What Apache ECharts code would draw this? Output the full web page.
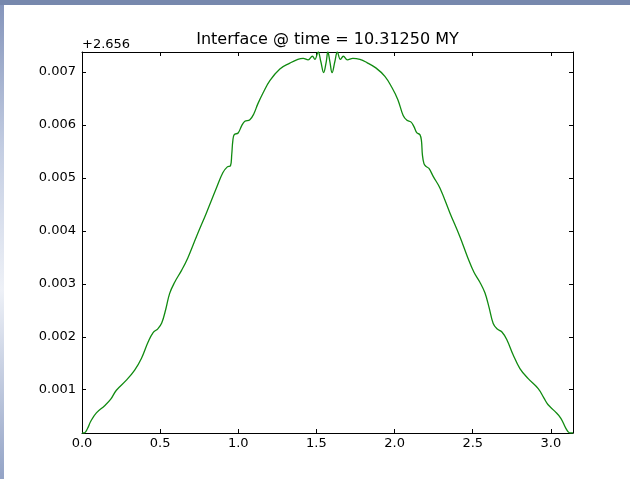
<!DOCTYPE html>
<html>
<head>
<meta charset="utf-8">
<style>
  html, body { margin: 0; padding: 0; background: #ffffff; }
  #chart { width: 630px; height: 479px; }
</style>
<script src="https://cdn.jsdelivr.net/npm/echarts@6/dist/echarts.min.js"></script>
</head>
<body>
<div id="chart"></div>
<script>
// Interface position along the profile (x in radians, height relative to offset)
const titleText = 'Interface @ time = 10.31250 MY';
const offsetText = '+2.656';

const xs = [
  0.000, 0.017, 0.036, 0.056, 0.092, 0.145, 0.184, 0.220, 0.284, 0.337,
  0.380, 0.423, 0.455, 0.485, 0.510, 0.536, 0.561, 0.593, 0.638, 0.677,
  0.732, 0.796, 0.860, 0.901, 0.930, 0.950, 0.958, 0.965, 0.974, 0.999,
  1.022, 1.042, 1.074, 1.099, 1.125, 1.159, 1.202, 1.266, 1.330, 1.381,
  1.415, 1.447, 1.474, 1.490, 1.511, 1.528, 1.546, 1.563, 1.573,
  1.586, 1.600, 1.618, 1.634, 1.653, 1.672, 1.698, 1.733, 1.778, 1.823,
  1.880, 1.938, 1.983, 2.021, 2.055, 2.079, 2.104, 2.124, 2.143, 2.162,
  2.172, 2.178, 2.188, 2.200, 2.220, 2.247, 2.290, 2.354, 2.418, 2.469,
  2.508, 2.546, 2.578, 2.604, 2.631, 2.655, 2.687, 2.719, 2.757, 2.802,
  2.855, 2.919, 2.956, 2.981, 3.026, 3.064, 3.096, 3.119, 3.1416
];

const heights = [
  0.000182, 0.000186, 0.000271, 0.000404, 0.000561, 0.000697, 0.000820, 0.000990, 0.001180, 0.001370,
  0.001590, 0.001900, 0.002080, 0.002150, 0.002260, 0.002520, 0.002820, 0.003030, 0.003260, 0.003490,
  0.003890, 0.004340, 0.004810, 0.005100, 0.005210, 0.005230, 0.005440, 0.005700, 0.005820, 0.005850,
  0.005990, 0.006070, 0.006100, 0.006210, 0.006400, 0.006610, 0.006840, 0.007060, 0.007170, 0.007240,
  0.007260, 0.007230, 0.007300, 0.007240, 0.007380, 0.007200, 0.006990, 0.007200, 0.007380,
  0.007200, 0.006990, 0.007200, 0.007380, 0.007240, 0.007300, 0.007230, 0.007260, 0.007240, 0.007180,
  0.007080, 0.006920, 0.006710, 0.006480, 0.006180, 0.006090, 0.006060, 0.005970, 0.005850, 0.005820,
  0.005700, 0.005440, 0.005270, 0.005220, 0.005180, 0.005030, 0.004810, 0.004340, 0.003890, 0.003490,
  0.003220, 0.003030, 0.002830, 0.002560, 0.002250, 0.002150, 0.002090, 0.001940, 0.001670, 0.001400,
  0.001210, 0.001020, 0.000840, 0.000720, 0.000590, 0.000460, 0.000270, 0.000186, 0.000182
];

const xMin = 0, xMax = Math.PI;
const yMin = 0.000182, yMax = 0.00738;

const points = xs.map((x, i) => [x, heights[i]]);

const font = 'DejaVu Sans';
const chart = echarts.init(document.getElementById('chart'), null, { renderer: 'canvas' });

const frameAxis = {
  axisLine: { show: true, onZero: false, lineStyle: { color: '#000', width: 1 } },
  axisTick: { show: true, inside: true, length: 4, lineStyle: { color: '#000', width: 1 } },
  splitLine: { show: false }
};

chart.setOption({
  animation: false,
  backgroundColor: '#ffffff',
  grid: { left: 82, right: 57, top: 52, bottom: 46, containLabel: false },
  xAxis: [
    Object.assign({
      type: 'value', position: 'bottom', min: xMin, max: xMax,
      minInterval: 0.5, maxInterval: 0.5,
      axisLabel: {
        show: true, color: '#000', fontFamily: font, fontSize: 13, margin: 4,
        showMaxLabel: false,
        formatter: v => v.toFixed(1)
      }
    }, frameAxis),
    Object.assign({
      type: 'value', position: 'top', min: xMin, max: xMax,
      minInterval: 0.5, maxInterval: 0.5,
      axisLabel: { show: false }
    }, frameAxis)
  ],
  yAxis: [
    Object.assign({
      type: 'value', position: 'left', min: yMin, max: yMax,
      minInterval: 0.001, maxInterval: 0.001,
      axisLabel: {
        show: true, color: '#000', fontFamily: font, fontSize: 13, margin: 6,
        showMinLabel: false, showMaxLabel: false,
        formatter: v => v.toFixed(3)
      }
    }, frameAxis),
    Object.assign({
      type: 'value', position: 'right', min: yMin, max: yMax,
      minInterval: 0.001, maxInterval: 0.001,
      axisLabel: { show: false }
    }, frameAxis)
  ],
  series: [{
    type: 'line',
    data: points,
    xAxisIndex: 0,
    yAxisIndex: 0,
    showSymbol: false,
    smooth: 0.4,
    clip: true,
    lineStyle: { color: '#108a10', width: 1.3 },
    itemStyle: { color: '#108a10' }
  }],
  graphic: [
    // window frame strips
    {
      type: 'rect', left: 0, top: 0, z: 100,
      shape: { x: 0, y: 0, width: 630, height: 5 },
      style: { fill: '#7788ad' }
    },
    {
      type: 'rect', left: 0, top: 5, z: 100,
      shape: { x: 0, y: 0, width: 4, height: 474 },
      style: {
        fill: new echarts.graphic.LinearGradient(0, 0, 0, 1, [
          { offset: 0, color: '#8595bb' },
          { offset: 0.3, color: '#c3cde2' },
          { offset: 0.6, color: '#eef1f7' },
          { offset: 1, color: '#93a3c6' }
        ])
      }
    },
    {
      type: 'text', z: 100,
      style: {
        x: 327.5, y: 40, text: titleText,
        fontFamily: font, fontSize: 16, fill: '#000',
        textAlign: 'center', textVerticalAlign: 'middle'
      }
    },
    {
      type: 'text', z: 100,
      style: {
        x: 82, y: 45, text: offsetText,
        fontFamily: font, fontSize: 13, fill: '#000',
        textAlign: 'left', textVerticalAlign: 'middle'
      }
    }
  ]
});
</script>
</body>
</html>
